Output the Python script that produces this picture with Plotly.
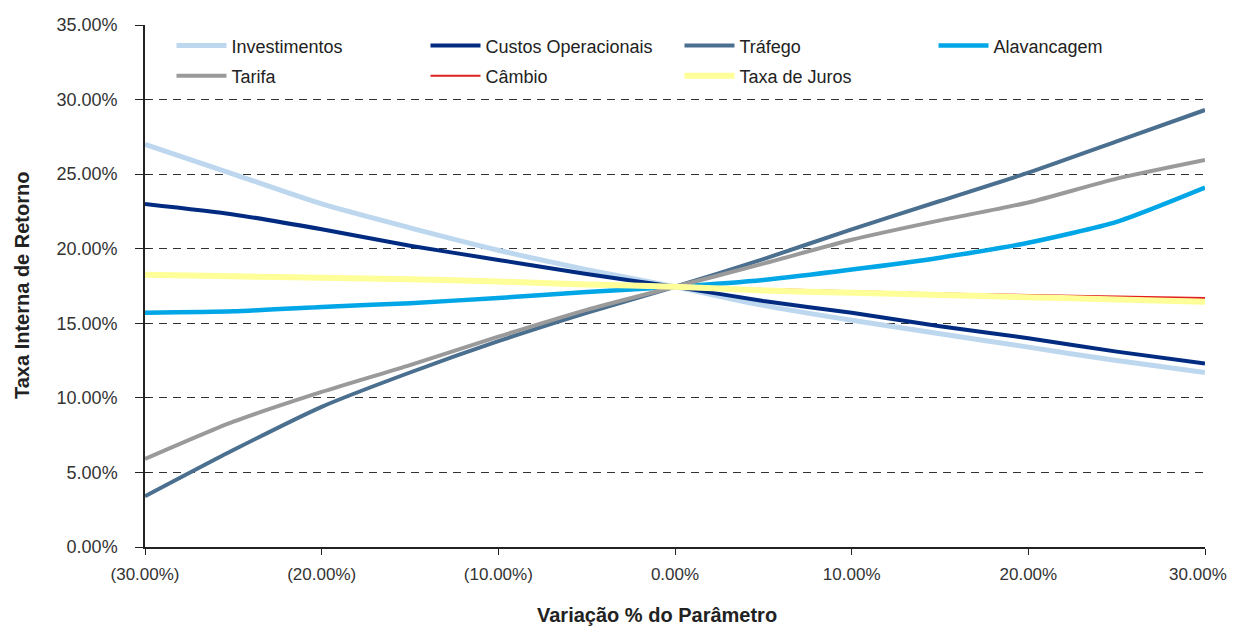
import plotly.graph_objects as go

# parameter variation (%)
variacao = [-30, -25, -20, -15, -10, -5, 0, 5, 10, 15, 20, 25, 30]

# TIR (%) for each sensitivity parameter
investimentos = [27.0, 25.0, 23.0, 21.4, 19.9, 18.6, 17.45, 16.2, 15.2, 14.3, 13.4, 12.5, 11.7]
custos_operacionais = [23.0, 22.3, 21.3, 20.2, 19.25, 18.3, 17.45, 16.5, 15.7, 14.8, 14.0, 13.1, 12.3]
trafego = [3.4, 6.5, 9.4, 11.7, 13.8, 15.7, 17.45, 19.3, 21.3, 23.2, 25.1, 27.2, 29.3]
alavancagem = [15.7, 15.8, 16.1, 16.35, 16.7, 17.1, 17.45, 17.9, 18.6, 19.4, 20.4, 21.8, 24.1]
tarifa = [5.9, 8.4, 10.4, 12.2, 14.1, 15.9, 17.45, 19.0, 20.6, 21.9, 23.1, 24.7, 25.95]
cambio = [18.3, 18.2, 18.1, 18.0, 17.85, 17.65, 17.45, 17.3, 17.15, 17.0, 16.9, 16.8, 16.7]
taxa_juros = [18.25, 18.15, 18.05, 17.95, 17.8, 17.6, 17.45, 17.2, 17.05, 16.9, 16.75, 16.6, 16.45]

x_ticks = [-30, -20, -10, 0, 10, 20, 30]
# trailing no-break spaces nudge the last label left so it stays inside the page
x_ticktext = ['(30.00%)', '(20.00%)', '(10.00%)', '0.00%', '10.00%', '20.00%',
              '30.00%\u00a0\u00a0\u00a0']
y_ticks = [0, 5, 10, 15, 20, 25, 30, 35]
y_ticktext = ['0.00%', '5.00%', '10.00%', '15.00%', '20.00%', '25.00%', '30.00%', '35.00%']

FONT = 'Liberation Sans, Arial'

series = [
    ('Investimentos', investimentos, '#BDD7EE', 5, 'legend'),
    ('Custos Operacionais', custos_operacionais, '#002B80', 4, 'legend'),
    ('Tráfego', trafego, '#4B6F8F', 4, 'legend'),
    ('Alavancagem', alavancagem, '#00A6E6', 4.5, 'legend'),
    ('Tarifa', tarifa, '#9A9A9A', 4, 'legend2'),
    ('Câmbio', cambio, '#E0211F', 2, 'legend2'),
    ('Taxa de Juros', taxa_juros, '#FFFF99', 6, 'legend2'),
]

fig = go.Figure()
for name, vals, color, width, leg in series:
    fig.add_trace(go.Scatter(x=variacao, y=vals,
                             mode='lines',
                             name=name,
                             legend=leg,
                             line=dict(color=color, width=width,
                                       shape='spline', smoothing=0.6)))

leg_common = dict(orientation='h', xanchor='left', yanchor='middle',
                  bgcolor='rgba(0,0,0,0)', entrywidth=189, itemwidth=50,
                  font=dict(family=FONT, size=18, color='#222222'))

# the page body adds an 8px offset, so the figure is smaller than the window
fig.update_layout(
    width=1228, height=620,
    margin=dict(l=137, r=31, t=17, b=81, autoexpand=False),
    paper_bgcolor='white', plot_bgcolor='white',
    font=dict(family=FONT, size=18, color='#333333'),
    legend=dict(x=0.025, y=0.96, **leg_common),
    legend2=dict(x=0.025, y=0.902, **leg_common),
    xaxis=dict(range=[-30, 30], tickvals=x_ticks, ticktext=x_ticktext,
               automargin=False, tickfont=dict(size=17, color='#333333'),
               ticklabelstandoff=5, ticklabeloverflow='allow',
               showgrid=False, zeroline=False,
               showline=True, linecolor='#222222', linewidth=1.5,
               ticks='outside', ticklen=6, tickcolor='#222222'),
    yaxis=dict(range=[0, 35], tickvals=y_ticks, ticktext=y_ticktext,
               automargin=False, tickfont=dict(size=18, color='#333333'),
               ticklabelstandoff=14,
               showgrid=True, gridcolor='#333333', gridwidth=1, griddash='8px,6px',
               zeroline=False,
               showline=True, linecolor='#222222', linewidth=1.5,
               ticks='outside', ticklen=8, tickcolor='#222222'),
    # second y axis only to draw the inner half of the crossing tick marks
    yaxis2=dict(range=[0, 35], tickvals=y_ticks, overlaying='y', side='left',
                showticklabels=False, showgrid=False, zeroline=False,
                showline=False, automargin=False,
                ticks='inside', ticklen=5, tickcolor='#222222', tickwidth=1),
    annotations=[
        dict(text='<b>Variação % do Parâmetro</b>', xref='paper', yref='paper',
             x=0.483, y=0, yshift=-81, showarrow=False,
             font=dict(family=FONT, size=20, color='#222222')),
        dict(text='<b>Taxa Interna de Retorno</b>', xref='paper', yref='paper',
             x=0, y=0.5, xshift=-136, textangle=-90, showarrow=False,
             font=dict(family=FONT, size=20, color='#222222')),
    ],
)

# invisible trace so the helper axis is drawn
fig.add_trace(go.Scatter(x=[variacao[0]], y=[trafego[0]], yaxis='y2',
                         mode='lines', showlegend=False, hoverinfo='skip',
                         line=dict(width=0)))

fig.write_html("out.html")
